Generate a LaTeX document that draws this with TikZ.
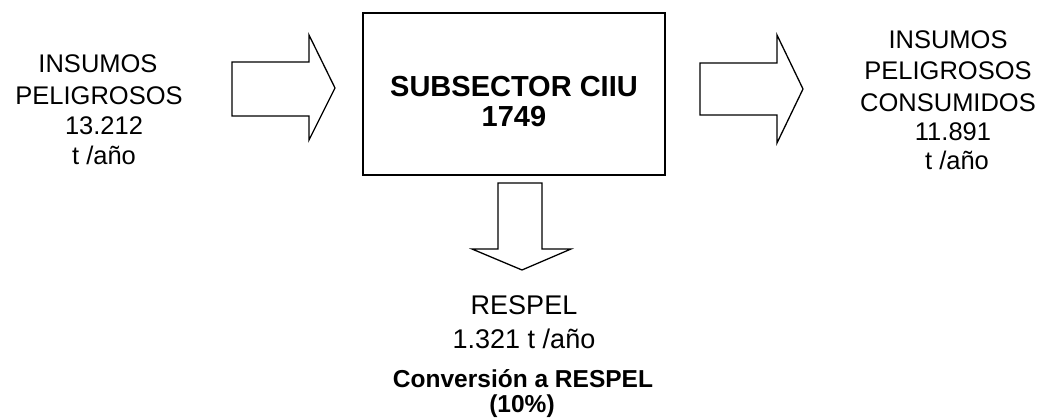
\documentclass[tikz,border=0pt]{standalone}
\usepackage{fontspec}
\setmainfont{Liberation Sans}
\begin{document}
\begin{tikzpicture}[x=1pt,y=-1pt,
  reg/.style={font=\fontsize{25.5}{30}\selectfont, anchor=base, inner sep=0pt},
  big/.style={font=\fontsize{27}{32}\selectfont, anchor=base, inner sep=0pt},
  bld/.style={font=\fontsize{29}{34}\selectfont\bfseries, anchor=base, inner sep=0pt},
  sml/.style={font=\fontsize{24.5}{29}\selectfont\bfseries, anchor=base, inner sep=0pt},
  blockarrow/.style={draw=black, line width=1.3pt, line join=miter, fill=white},
  boxstyle/.style={draw=black, line width=1.3pt, inner sep=0pt, minimum width=302pt, minimum height=162pt}]
\useasboundingbox (0,0) rectangle (1045,420);
% central box
\node[boxstyle] (box) at (514,94) {};
\node[bld] (b1) at (514,96) {SUBSECTOR CIIU};
\node[bld] (b2) at (514,127) {1749};
% block arrows
\draw[blockarrow] (232,62) -- (309,62) -- (309,35) -- (335,88) -- (309,140) -- (309,116) -- (232,116) -- cycle;
\draw[blockarrow] (700,63) -- (777,63) -- (777,35) -- (803,89) -- (777,143) -- (777,115) -- (700,115) -- cycle;
\draw[blockarrow] (498,183) -- (542,183) -- (542,249) -- (571,249) -- (522,270) -- (472,249) -- (498,249) -- cycle;
% left label
\node[reg] (l1) at (98,73) {INSUMOS};
\node[reg] (l2) at (99,104) {PELIGROSOS};
\node[reg] (l3) at (104,135) {13.212};
\node[reg] (l4) at (104,164) {t /año};
% right label
\node[reg] (r1) at (948,49) {INSUMOS};
\node[reg] (r2) at (948,80) {PELIGROSOS};
\node[reg] (r3) at (948,111) {CONSUMIDOS};
\node[reg] (r4) at (953,140) {11.891};
\node[reg] (r5) at (957,169) {t /año};
% bottom label
\node[big] (d1) at (524,314) {RESPEL};
\node[big] (d2) at (524,348) {1.321 t /año};
\node[sml] (d3) at (523,387) {Conversión a RESPEL};
\node[sml] (d4) at (522,412) {(10\%)};
\end{tikzpicture}
\end{document}
